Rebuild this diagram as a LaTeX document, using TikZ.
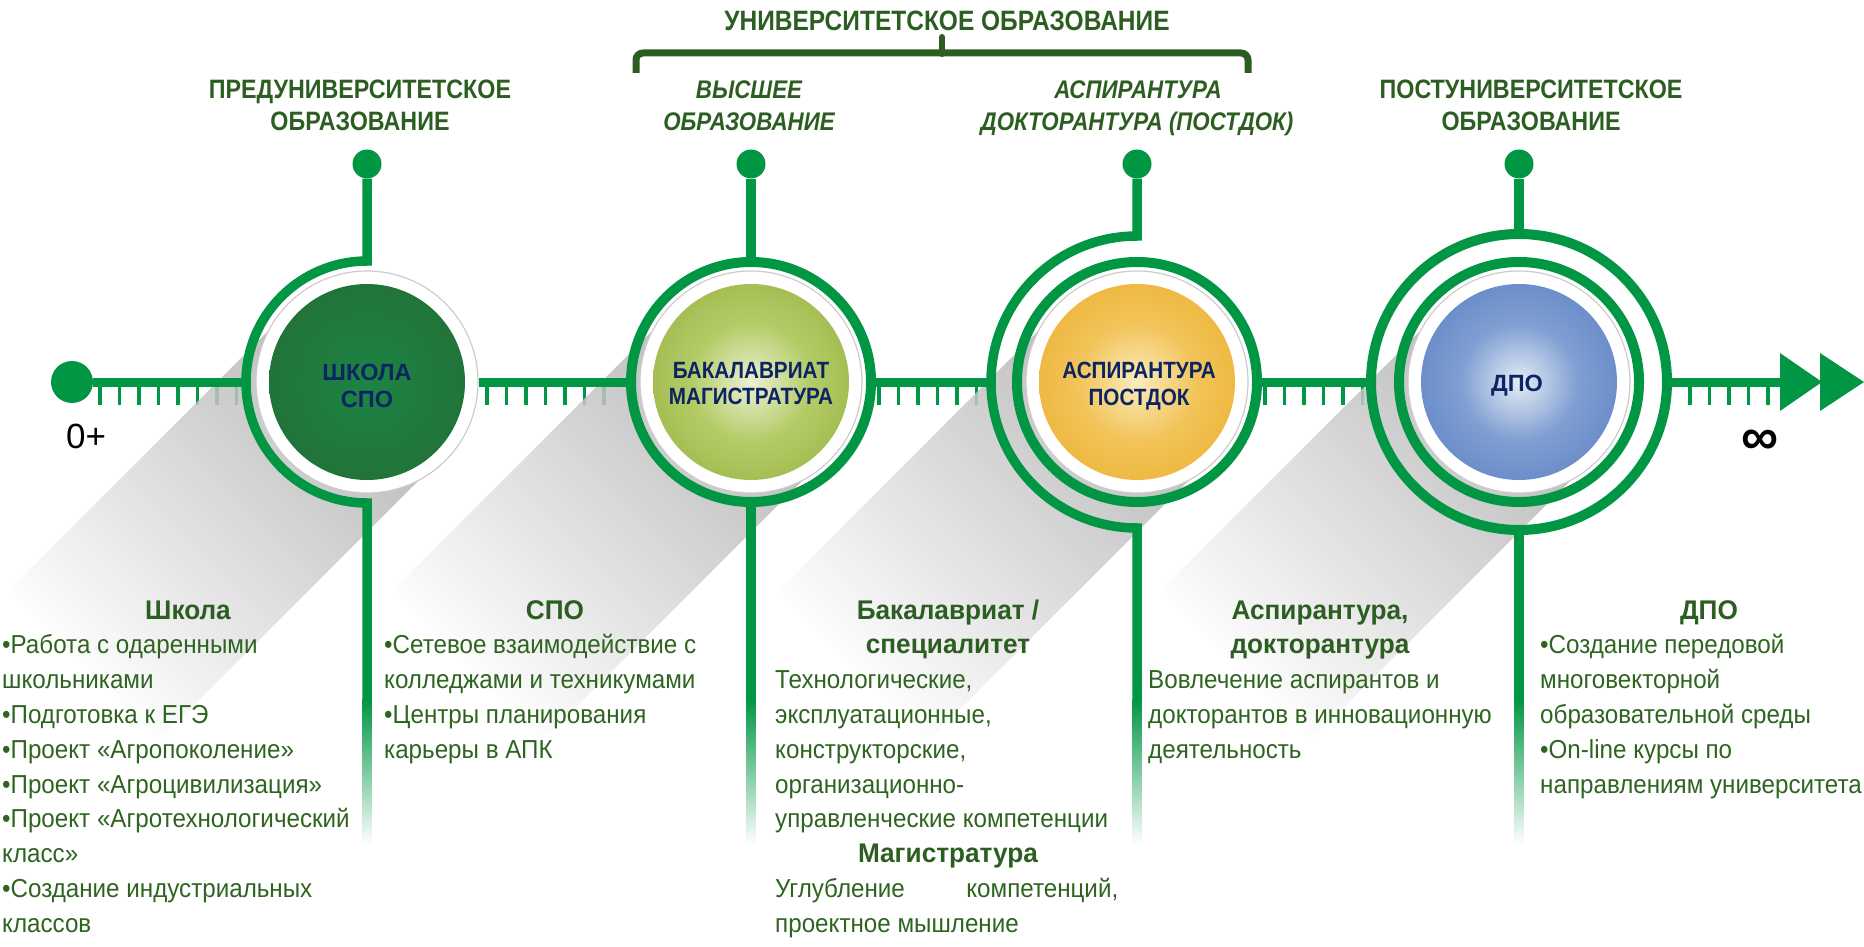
\documentclass[tikz,border=0pt]{standalone}
\usepackage{fontspec}
\setmainfont{Liberation Sans}
\newfontfamily\hdfont{Liberation Sans}[FakeStretch=0.875]
\newfontfamily\bdfont{Liberation Sans}[FakeStretch=0.93]
\newfontfamily\bhfont{Liberation Sans}[FakeStretch=0.97]
\newfontfamily\cfont{Liberation Sans}
\newfontfamily\cfontn{Liberation Sans}[FakeStretch=0.88]
\definecolor{lgreen}{RGB}{0,150,68}
\definecolor{hgreen}{RGB}{44,94,34}
\definecolor{tgreen}{RGB}{46,100,32}
\definecolor{navy}{RGB}{12,36,97}
\definecolor{c1in}{RGB}{28,132,68}
\definecolor{c1out}{RGB}{38,100,46}
\definecolor{c2in}{RGB}{236,240,212}
\definecolor{c2mid}{RGB}{180,204,104}
\definecolor{c2out}{RGB}{132,162,40}
\definecolor{c3in}{RGB}{250,236,190}
\definecolor{c3mid}{RGB}{242,196,90}
\definecolor{c3out}{RGB}{232,164,22}
\definecolor{c4in}{RGB}{228,236,246}
\definecolor{c4mid}{RGB}{128,158,210}
\definecolor{c4out}{RGB}{70,112,186}
\definecolor{shd}{RGB}{172,172,172}
\pgfdeclareradialshading{ballA}{\pgfpoint{0bp}{0bp}}{color(0bp)=(c1in); color(50bp)=(c1out); color(100bp)=(c1out)}
\pgfdeclareradialshading{ballB}{\pgfpoint{0bp}{0bp}}{color(0bp)=(c2in); color(15bp)=(c2mid); color(46bp)=(c2out); color(100bp)=(c2out)}
\pgfdeclareradialshading{ballC}{\pgfpoint{0bp}{0bp}}{color(0bp)=(c3in); color(15bp)=(c3mid); color(44bp)=(c3out); color(100bp)=(c3out)}
\pgfdeclareradialshading{ballD}{\pgfpoint{0bp}{0bp}}{color(0bp)=(c4in); color(15bp)=(c4mid); color(44bp)=(c4out); color(100bp)=(c4out)}
\pgfdeclarelayer{back}
\pgfdeclarelayer{mid}
\pgfsetlayers{back,mid,main}
\begin{document}
\begin{tikzpicture}[x=1pt,y=-1pt,
  gline/.style={draw=lgreen, line width=9.5},
  axisline/.style={draw=lgreen, line width=9},
  ring/.style={circle, draw=lgreen, line width=10, inner sep=0},
  gdot/.style={circle, fill=lgreen, inner sep=0},
  wdisc/.style={circle, fill=white, draw=gray!40, line width=1.2, inner sep=0, minimum size=222},
  cdisc/.style={circle, inner sep=0, minimum size=196, shade},
  ctext/.style={font=\cfont\bfseries\fontsize{23.5}{27}\selectfont, text=navy, inner sep=0, anchor=base},
  ctextn/.style={font=\cfontn\bfseries\fontsize{23.5}{27}\selectfont, text=navy, inner sep=0, anchor=base},
  tophd/.style={font=\hdfont\bfseries\fontsize{26.6}{30}\selectfont, text=hgreen, inner sep=0, anchor=base},
  topbig/.style={font=\hdfont\bfseries\fontsize{28}{30}\selectfont, text=hgreen, inner sep=0, anchor=base},
  topit/.style={font=\hdfont\bfseries\itshape\fontsize{25.5}{30}\selectfont, text=hgreen, inner sep=0, anchor=base},
  body/.style={font=\bdfont\fontsize{26}{30}\selectfont, text=tgreen, inner sep=0, anchor=base west},
  bodyhd/.style={font=\bhfont\bfseries\fontsize{27}{30}\selectfont, text=hgreen, inner sep=0, anchor=base}
]
\useasboundingbox (0,0) rectangle (1864,947);

% ---------- ticks and shadows (back layer)
\begin{pgfonlayer}{back}
\foreach \s/\n in {100/8, 487/7, 879/6, 1265/6, 1690/5}{
  \foreach \k in {1,...,\n}{
    \fill[lgreen] ({\s+19.5*(\k-1)-1.75},386) rectangle ++(3.5,19);
  }
}
\foreach \cx in {367,751,1137,1519}{
  \shade[fill opacity=0.85, top color=shd, bottom color=white, shading angle=-45]
    ({\cx+75},457) -- ({\cx-75},307) -- ({\cx-357.8},589.8) -- ({\cx-207.8},739.8) -- cycle;
}
\end{pgfonlayer}

% ---------- dots, rings, coordinates
\node[gdot, minimum size=42] (d0) at (72,382) {};
\coordinate (a1w) at (246,382);
\coordinate (a3w) at (991,382);
\coordinate (ar) at (1781,382);
\foreach \i/\x in {1/367, 2/751, 3/1137, 4/1519}{
  \node[gdot, minimum size=29] (t\i) at (\x,164) {};
  \coordinate (e\i) at (\x,700);
}

% circle 1
\draw[gline] (t1) -- (367,261) arc[start angle=270, end angle=90, radius=121] -- (e1);
% circle 2
\node[ring, minimum size=240] (r2) at (751,382) {};
\draw[gline] (t2) -- (r2.north);
\draw[gline] (r2.south) -- (e2);
% circle 3
\draw[gline] (t3) -- (1137,236) arc[start angle=270, end angle=90, radius=146] -- (e3);
\node[ring, minimum size=240] (i3) at (1137,382) {};
% circle 4
\node[ring, minimum size=296] (o4) at (1519,382) {};
\node[ring, minimum size=240] (i4) at (1519,382) {};
\draw[gline] (t4) -- (o4.north);
\draw[gline] (o4.south) -- (e4);

% stem fades
\foreach \x in {367,751,1137,1519}{
  \shade[top color=lgreen, bottom color=white] ({\x-4.75},699) rectangle ({\x+4.75},845);
}

% discs
\node[wdisc] (w1) at (367,382) {};
\node[cdisc, shading=ballA] (k1) at (367,382) {};
\node[wdisc] (w2) at (751,382) {};
\node[cdisc, shading=ballB] (k2) at (751,382) {};
\node[wdisc] (w3) at (1137,382) {};
\node[cdisc, shading=ballC] (k3) at (1137,382) {};
\node[wdisc] (w4) at (1519,382) {};
\node[cdisc, shading=ballD] (k4) at (1519,382) {};

% axis (mid layer)
\begin{pgfonlayer}{mid}
\draw[axisline] (d0) -- (a1w);
\draw[axisline] (w1.east) -- (r2.west);
\draw[axisline] (r2.east) -- (a3w);
\draw[axisline] (i3.east) -- (o4.west);
\draw[axisline] (o4.east) -- (ar);
\end{pgfonlayer}

% arrow heads
\fill[lgreen] (1780,353) -- (1822,382) -- (1780,411) -- cycle;
\fill[lgreen] (1820,353) -- (1864,382) -- (1820,411) -- cycle;

% circle texts
\node[ctext] (l1a) at (367,380) {ШКОЛА};
\node[ctext] (l1b) at (367,407) {СПО};
\node[ctextn] (l2a) at (751,378) {БАКАЛАВРИАТ};
\node[ctextn] (l2b) at (751,404) {МАГИСТРАТУРА};
\node[ctextn] (l3a) at (1139,378) {АСПИРАНТУРА};
\node[ctextn] (l3b) at (1139,405) {ПОСТДОК};
\node[ctext] (l4a) at (1517,391) {ДПО};

% axis labels
\node[font=\cfont\fontsize{35}{40}\selectfont, inner sep=0, anchor=base] (zero) at (86,448) {0+};
\node[font=\cfont\bfseries\fontsize{52}{54}\selectfont, inner sep=0] (inf) at (1760,442) {∞};

% top headings
\node[tophd] (p1) at (360,99) {ПРЕДУНИВЕРСИТЕТСКОЕ};
\node[tophd] (p2) at (360,131) {ОБРАЗОВАНИЕ};
\node[topbig] (u1) at (947,31) {УНИВЕРСИТЕТСКОЕ ОБРАЗОВАНИЕ};
\node[topit] (v1) at (749,99) {ВЫСШЕЕ};
\node[topit] (v2) at (749,131) {ОБРАЗОВАНИЕ};
\node[topit] (a1) at (1138,99) {АСПИРАНТУРА};
\node[topit] (a2) at (1137,131) {ДОКТОРАНТУРА (ПОСТДОК)};
\node[tophd] (q1) at (1531,99) {ПОСТУНИВЕРСИТЕТСКОЕ};
\node[tophd] (q2) at (1531,131) {ОБРАЗОВАНИЕ};
% brace
\draw[hgreen, line width=7, rounded corners=7] (636,73) -- (636,53) -- (1248,53) -- (1248,73);
\draw[hgreen, line width=6, line cap=round] (942,54) -- (942,37);

% block 1
\node[bodyhd] (h1) at (188,619) {Школа};
\foreach \t [count=\i] in {{•Работа с одаренными},{школьниками},{•Подготовка к ЕГЭ},{•Проект «Агропоколение»},{•Проект «Агроцивилизация»},{•Проект «Агротехнологический},{класс»},{•Создание индустриальных},{классов}}
  \node[body] (sa\i) at (2,{619+34.8*\i}) {\t};
% block 2
\node[bodyhd] (h2) at (555,619) {СПО};
\foreach \t [count=\i] in {{•Сетевое взаимодействие с},{колледжами и техникумами},{•Центры планирования},{карьеры в АПК}}
  \node[body] (sb\i) at (384,{619+34.8*\i}) {\t};
% block 3
\node[bodyhd] (h3a) at (948,619) {Бакалавриат /};
\node[bodyhd] (h3b) at (948,653.8) {специалитет};
\foreach \t [count=\i] in {{Технологические,},{эксплуатационные,},{конструкторские,},{организационно-},{управленческие компетенции}}
  \node[body] (sc\i) at (775,{619+34.8*(\i+1)}) {\t};
\node[bodyhd] (h3c) at (948,862.6) {Магистратура};
\node[body] (sc6) at (775,897.4) {\makebox[343pt][l]{Углубление\hfill компетенций,}};
\node[body] (sc7) at (775,932.2) {проектное мышление};
% block 4
\node[bodyhd] (h4a) at (1320,619) {Аспирантура,};
\node[bodyhd] (h4b) at (1320,653.8) {докторантура};
\foreach \t [count=\i] in {{Вовлечение аспирантов и},{докторантов в инновационную},{деятельность}}
  \node[body] (sd\i) at (1148,{619+34.8*(\i+1)}) {\t};
% block 5
\node[bodyhd] (h5) at (1709,619) {ДПО};
\foreach \t [count=\i] in {{•Создание передовой},{многовекторной},{образовательной среды},{•On-line курсы по},{направлениям университета}}
  \node[body] (se\i) at (1540,{619+34.8*\i}) {\t};
\end{tikzpicture}
\end{document}
